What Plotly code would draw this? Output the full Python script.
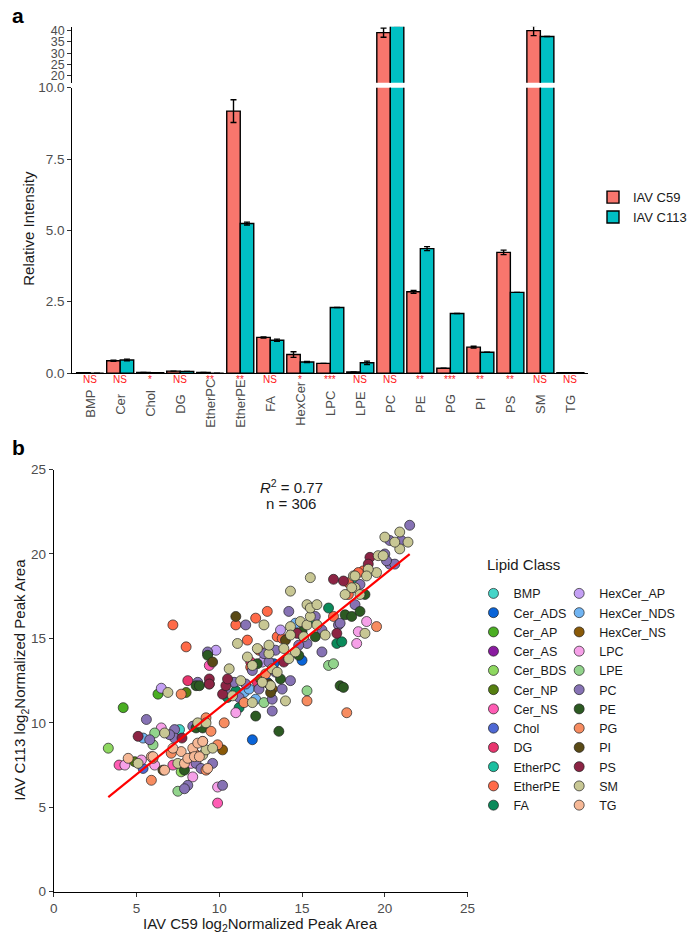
import plotly.graph_objects as go

# ---------------- Panel a data ----------------
categories = ["BMP", "Cer", "Chol", "DG", "EtherPC", "EtherPE", "FA", "HexCer", "LPC",
              "LPE", "PC", "PE", "PG", "PI", "PS", "SM", "TG"]
c59_vals = [0.01, 0.43, 0.02, 0.07, 0.02, 9.18, 1.25, 0.65, 0.34, 0.04, 39.1, 2.85, 0.17, 0.91, 4.23, 40.0, 0.01]
c59_err = [None, 0.02, None, None, None, 0.40, 0.02, 0.10, None, None, 2.0, 0.05, None, 0.03, 0.08, 2.2, None]
c113_vals = [0.0, 0.46, 0.01, 0.06, 0.0, 5.24, 1.15, 0.39, 2.30, 0.36, 42.2, 4.36, 2.09, 0.73, 2.83, 37.4, 0.01]
c113_err = [None, 0.03, None, None, None, 0.05, 0.04, 0.02, None, 0.06, None, 0.07, None, None, None, None, None]
significance = ["NS", "NS", "*", "NS", "**", "**", "NS", "*", "***", "NS", "NS", "**", "***", "**", "**", "NS", "NS"]
lower_ticks = [0, 2.5, 5, 7.5, 10]
lower_ticktext = ["0.0", "2.5", "5.0", "7.5", "10.0"]
upper_ticks = [20, 25, 30, 35, 40]

# ---------------- Panel b data ----------------
BMP_x = [7.6]; BMP_y = [9.6]
Cer_ADS_x = [12.0, 12.9, 15.0, 15.0, 13.3]; Cer_ADS_y = [9.0, 12.4, 15.2, 13.7, 13.5]
Cer_AP_x = [4.2, 6.3]; Cer_AP_y = [10.9, 11.7]
Cer_AS_x = [14.5]; Cer_AS_y = [15.4]
Cer_BDS_x = [3.3, 7.7]; Cer_BDS_y = [8.5, 7.1]
Cer_NP_x = [4.9, 8.0]; Cer_NP_y = [7.7, 11.8]
Cer_NS_x = [3.95, 7.2, 9.9, 12.4, 9.4]; Cer_NS_y = [7.5, 7.5, 5.25, 12.2, 13.4]
Chol_x = [5.4, 12.8]; Chol_y = [7.3, 13.8]
DG_x = [11.9, 8.1, 12.3]; DG_y = [13.6, 12.5, 12.4]
EtherPC_x = [9.3, 18.1, 11.3]; EtherPC_y = [14.1, 18.4, 11.7]
EtherPE_x = [7.2, 8.0, 9.4, 11.0, 12.2, 12.9, 11.9, 13.5, 13.8, 16.9, 18.7, 18.4, 17.8, 17.8, 12.4, 11.7]
EtherPE_y = [15.8, 14.5, 12.3, 15.8, 16.2, 16.6, 13.3, 15.1, 15.0, 16.3, 19.0, 18.9, 18.3, 17.6, 14.3, 14.9]
FA_x = [10.5, 11.2, 16.6, 17.1, 17.4, 15.7, 11.0]; FA_y = [11.5, 10.9, 16.8, 14.7, 14.8, 16.1, 11.9]
HexCer_AP_x = [6.5, 9.8, 13.7, 12.6]; HexCer_AP_y = [12.05, 14.3, 15.5, 13.6]
HexCer_NDS_x = [5.4, 11.5, 12.2, 14.6, 11.8]; HexCer_NDS_y = [9.1, 11.8, 11.4, 15.9, 12.0]
HexCer_NS_x = [10.2, 13.2, 12.5]; HexCer_NS_y = [8.4, 12.0, 12.6]
LPC_x = [4.3, 5.3, 6.1, 6.5, 8.3, 8.4, 9.9, 11.0, 18.9, 18.4, 18.3, 9.0]
LPC_y = [7.5, 7.8, 7.5, 9.7, 7.6, 6.8, 6.2, 10.6, 16.0, 15.4, 14.7, 8.9]
LPE_x = [6.0, 6.1, 7.5, 12.7, 15.3, 16.6, 16.9]; LPE_y = [8.7, 9.4, 5.95, 11.2, 11.9, 13.4, 13.5]
PC_x = [5.6, 5.8, 7.3, 7.3, 8.1, 7.9, 8.6, 8.4, 8.9, 9.6, 10.2, 11.2, 13.2, 13.2, 13.8, 14.3, 8.7, 9.3,
        11.6, 12.7, 13.0, 13.4, 14.2, 15.3, 15.8, 16.2, 16.2, 17.2, 17.3, 18.2, 18.5, 20.0, 20.3, 20.6,
        20.1, 20.3, 21.0, 21.5, 7.0, 12.4, 11.6, 12.0, 10.9, 13.4, 14.8, 10.4]
PC_y = [10.2, 9.0, 9.6, 9.1, 6.3, 6.1, 7.6, 9.8, 7.3, 7.6, 6.3, 11.5, 10.7, 11.4, 12.0, 12.5, 12.4, 14.2,
        15.8, 14.1, 13.6, 14.3, 16.6, 14.7, 16.3, 15.5, 14.2, 15.8, 15.9, 17.0, 18.2, 20.0, 19.4, 19.4,
        19.6, 20.8, 20.8, 21.7, 9.3, 12.0, 12.3, 13.1, 12.4, 13.0, 14.6, 11.8]
PE_x = [7.9, 8.6, 8.6, 9.0, 12.2, 13.6, 8.8, 9.3, 15.8, 17.3, 17.5, 17.6, 18.0, 18.5, 18.8, 13.7, 12.3, 14.8, 15.0]
PE_y = [7.2, 9.7, 12.2, 9.7, 10.4, 9.5, 12.2, 14.0, 15.1, 12.2, 12.1, 16.4, 16.3, 16.6, 17.6, 12.6, 13.5, 14.0, 15.4]
PG_x = [5.9, 7.1, 7.7, 8.5, 9.2, 9.2, 9.5, 9.9, 10.3, 11.5, 15.3, 17.7, 19.5, 6.0, 12.8]
PG_y = [6.6, 8.2, 11.7, 8.2, 10.3, 7.2, 9.5, 8.7, 10.0, 11.2, 11.3, 10.6, 15.7, 7.9, 12.9]
PI_x = [6.6, 9.6, 11.0, 13.1, 13.0, 14.0]; PI_y = [7.2, 13.6, 16.3, 11.8, 12.3, 14.9]
PS_x = [5.1, 7.75, 9.4, 10.2, 10.4, 10.5, 14.7, 16.9, 17.1, 17.5, 19.1, 19.0, 9.4, 13.9]
PS_y = [9.2, 9.1, 12.6, 11.7, 12.2, 12.6, 15.3, 18.5, 15.3, 18.4, 19.8, 19.4, 12.3, 13.6]
SM_x = [5.1, 6.7, 6.9, 7.5, 8.7, 9.0, 9.2, 9.2, 9.6, 12.0, 13.1, 14.0, 10.6, 11.1, 12.7, 12.3, 13.0, 13.2,
        14.3, 14.3, 14.3, 14.9, 15.1, 15.3, 15.5, 15.5, 15.3, 15.5, 15.9, 15.9, 18.1, 18.2, 18.2, 18.0,
        18.5, 17.6, 19.5, 19.0, 18.9, 19.6, 19.9, 20.9, 21.4, 20.6, 20.0, 20.9, 18.8, 13.5, 12.6, 11.3,
        10.8, 13.0, 13.9, 12.0, 14.2, 14.6, 16.4, 11.7]
SM_y = [7.6, 9.4, 11.8, 7.6, 10.0, 8.1, 10.0, 8.4, 8.5, 11.2, 12.2, 11.3, 13.2, 14.7, 15.8, 14.4, 14.1, 13.2,
        17.8, 15.7, 15.2, 16.0, 15.1, 15.8, 16.3, 18.6, 17.0, 16.8, 15.8, 17.0, 18.7, 18.7, 18.0, 18.0,
        17.6, 17.6, 18.9, 19.1, 18.7, 19.9, 19.9, 20.3, 20.7, 20.7, 21.0, 21.3, 15.3, 13.0, 12.4, 12.5,
        11.6, 14.6, 14.4, 13.4, 13.8, 14.2, 15.2, 13.9]
TG_x = [4.5, 5.9, 6.7, 7.7, 7.9, 8.1, 8.4, 8.5, 8.7, 8.8, 9.0, 6.0, 9.3, 7.2]
TG_y = [7.9, 8.0, 7.2, 8.3, 7.6, 7.9, 8.5, 8.0, 8.8, 8.0, 8.9, 8.0, 7.3, 8.5]

lipid_classes = ["BMP", "Cer_ADS", "Cer_AP", "Cer_AS", "Cer_BDS", "Cer_NP", "Cer_NS", "Chol", "DG",
                 "EtherPC", "EtherPE", "FA", "HexCer_AP", "HexCer_NDS", "HexCer_NS", "LPC", "LPE",
                 "PC", "PE", "PG", "PI", "PS", "SM", "TG"]
class_x = [BMP_x, Cer_ADS_x, Cer_AP_x, Cer_AS_x, Cer_BDS_x, Cer_NP_x, Cer_NS_x, Chol_x, DG_x, EtherPC_x,
           EtherPE_x, FA_x, HexCer_AP_x, HexCer_NDS_x, HexCer_NS_x, LPC_x, LPE_x, PC_x, PE_x, PG_x,
           PI_x, PS_x, SM_x, TG_x]
class_y = [BMP_y, Cer_ADS_y, Cer_AP_y, Cer_AS_y, Cer_BDS_y, Cer_NP_y, Cer_NS_y, Chol_y, DG_y, EtherPC_y,
           EtherPE_y, FA_y, HexCer_AP_y, HexCer_NDS_y, HexCer_NS_y, LPC_y, LPE_y, PC_y, PE_y, PG_y,
           PI_y, PS_y, SM_y, TG_y]
class_colors = ["#45D5C8", "#0A64D8", "#4AAE22", "#8A1AA0", "#8ED860", "#557F10", "#FF5CB4", "#4E68D4",
                "#E8356E", "#1CBFA0", "#FF6A48", "#0A8A5A", "#C4A0F4", "#70B4F2", "#8A5A08", "#F6A0E8",
                "#92D48C", "#8672B4", "#2C5A22", "#F78C60", "#5A4A16", "#8C2444", "#C8C794", "#F6B896"]

fit_intercept = 3.0
fit_slope = 0.79
fit_x = [3.3, 21.5]
r2_text = "0.77"
n_text = "306"

# ---------------- Figure ----------------
W, H = 692, 945
FONT = "Liberation Sans, Arial, sans-serif"
GREY = "#4D4D4D"
RED_BAR = "#F8766D"
CYAN_BAR = "#00BFC4"


def px_x(p):
    return p / W


def px_y(p):
    return 1 - p / H


fig = go.Figure()

for name, color, vals, errs in [("IAV C59", RED_BAR, c59_vals, c59_err),
                                ("IAV C113", CYAN_BAR, c113_vals, c113_err)]:
    for yax, show in [("y", True), ("y2", False)]:
        fig.add_trace(go.Bar(
            x=categories, y=vals, name=name, xaxis="x", yaxis=yax, showlegend=show,
            legend="legend", offsetgroup=name,
            marker=dict(color=color, line=dict(color="black", width=1.4)),
            error_y=dict(type="data", array=errs, color="black", thickness=1.4, width=3),
        ))

for i, cls in enumerate(lipid_classes):
    fig.add_trace(go.Scatter(
        x=class_x[i], y=class_y[i], mode="markers", name=cls, xaxis="x2", yaxis="y3",
        legend="legend2" if i < 12 else "legend3",
        marker=dict(color=class_colors[i], size=10, line=dict(color="#222222", width=0.7)),
    ))

fig.add_trace(go.Scatter(
    x=fit_x, y=[fit_intercept + fit_slope * v for v in fit_x], mode="lines",
    line=dict(color="#FF0000", width=2.2), xaxis="x2", yaxis="y3", showlegend=False,
))

axis_common = dict(showline=True, linecolor="black", linewidth=1, showgrid=False, zeroline=False,
                   ticks="outside", ticklen=4, tickcolor="#333333", tickwidth=1)
tick_font = dict(family=FONT, size=13.5, color=GREY)

fig.update_layout(
    width=W, height=H, margin=dict(l=0, r=0, t=0, b=0),
    paper_bgcolor="white", plot_bgcolor="white",
    font=dict(family=FONT, color="#1A1A1A"),
    barmode="group", bargap=0.1, bargroupgap=0,
    xaxis=dict(domain=[px_x(70), px_x(600)], anchor="y", type="category",
               categoryorder="array", categoryarray=categories, range=[-0.6, 16.6],
               showline=True, linecolor="black", linewidth=1, showgrid=False, zeroline=False,
               ticks="", showticklabels=False),
    yaxis=dict(domain=[px_y(372), px_y(82)], anchor="x", range=[0, 10],
               tickvals=lower_ticks, ticktext=lower_ticktext, tickfont=tick_font, **axis_common),
    yaxis2=dict(domain=[px_y(77), px_y(20)], anchor="x", range=[16.96, 41.74],
                tickvals=upper_ticks, tickfont=dict(family=FONT, size=12.5, color=GREY),
                **axis_common),
    xaxis2=dict(domain=[px_x(51), px_x(476)], anchor="y3", range=[0, 25],
                tickvals=[0, 5, 10, 15, 20, 25], tickfont=tick_font, **axis_common),
    yaxis3=dict(domain=[px_y(899), px_y(470)], anchor="x2", range=[0, 25],
                tickvals=[0, 5, 10, 15, 20, 25], tickfont=tick_font, **axis_common),
    legend=dict(x=px_x(605), y=px_y(178), xanchor="left", yanchor="top",
                font=dict(family=FONT, size=13, color="#1A1A1A"), bgcolor="rgba(0,0,0,0)"),
    legend2=dict(x=px_x(482), y=px_y(581), xanchor="left", yanchor="top",
                 font=dict(family=FONT, size=12.5, color="#1A1A1A"), bgcolor="rgba(0,0,0,0)"),
    legend3=dict(x=px_x(570), y=px_y(581), xanchor="left", yanchor="top",
                 font=dict(family=FONT, size=12.5, color="#1A1A1A"), bgcolor="rgba(0,0,0,0)"),
)

annotations = []
for cat, sig in zip(categories, significance):
    annotations.append(dict(x=cat, xref="x", y=px_y(379), yref="paper", text=sig, showarrow=False,
                            xanchor="center", yanchor="middle",
                            font=dict(family=FONT, size=10, color="#FF1A1A")))
    annotations.append(dict(x=cat, xref="x", y=px_y(403), yref="paper", text=cat, showarrow=False,
                            textangle=-90, xanchor="center", yanchor="middle",
                            font=dict(family=FONT, size=13, color=GREY)))

annotations += [
    dict(x=px_x(6), y=px_y(9), xref="paper", yref="paper", text="<b>a</b>", showarrow=False,
         xanchor="left", yanchor="middle", font=dict(family=FONT, size=21, color="black")),
    dict(x=px_x(6), y=px_y(448), xref="paper", yref="paper", text="<b>b</b>", showarrow=False,
         xanchor="left", yanchor="middle", font=dict(family=FONT, size=21, color="black")),
    dict(x=px_x(25), y=px_y(225), xref="paper", yref="paper", text="Relative Intensity",
         showarrow=False, textangle=-90, xanchor="center", yanchor="middle",
         font=dict(family=FONT, size=15, color="#1A1A1A")),
    dict(x=px_x(263), y=px_y(932), xref="paper", yref="paper",
         text="IAV C59 log<sub>2</sub>Normalized Peak Area", showarrow=False,
         xanchor="center", yanchor="middle", font=dict(family=FONT, size=15, color="#1A1A1A")),
    dict(x=px_x(17), y=px_y(684), xref="paper", yref="paper",
         text="IAV C113 log<sub>2</sub>Normalized Peak Area", showarrow=False, textangle=-90,
         xanchor="center", yanchor="middle", font=dict(family=FONT, size=15, color="#1A1A1A")),
    dict(x=14.35, y=24.0, xref="x2", yref="y3", text="<i>R</i><sup>2</sup> = " + r2_text,
         showarrow=False, xanchor="center", yanchor="middle",
         font=dict(family=FONT, size=15, color="#1A1A1A")),
    dict(x=14.35, y=23.0, xref="x2", yref="y3", text="n = " + n_text,
         showarrow=False, xanchor="center", yanchor="middle",
         font=dict(family=FONT, size=15, color="#1A1A1A")),
    dict(x=px_x(494), y=px_y(566), xref="paper", yref="paper", text="Lipid Class",
         showarrow=False, xanchor="left", yanchor="middle",
         font=dict(family=FONT, size=15, color="#1A1A1A")),
]
fig.update_layout(annotations=annotations)

fig.write_html("out.html")
